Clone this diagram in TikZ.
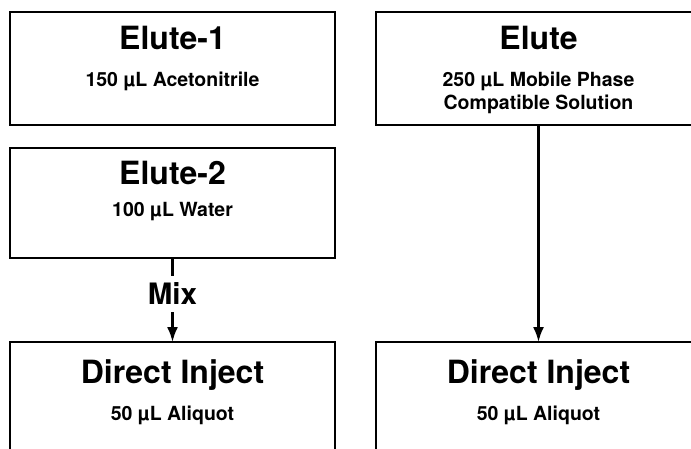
\documentclass[tikz,border=0pt]{standalone}
\usepackage{fontspec}
\setmainfont{TeX Gyre Heros}
\usetikzlibrary{arrows.meta}
\tikzset{
  box/.style={draw, line width=2.5pt, minimum width=325pt, minimum height=113pt, anchor=north west, inner sep=0pt, outer sep=0pt},
  ttl/.style={anchor=base, font=\fontsize{32}{32}\selectfont\bfseries, inner sep=0pt},
  sub/.style={anchor=base, font=\fontsize{19.5}{23}\selectfont\bfseries, inner sep=0pt},
  conn/.style={line width=2.2pt},
  arr/.style={line width=2.2pt, -{Latex[length=15pt,width=11pt]}},
  mixlbl/.style={anchor=base, font=\fontsize{29.5}{29.5}\selectfont\bfseries, inner sep=7pt, fill=white}
}
\begin{document}
\begin{tikzpicture}[x=1pt,y=-1pt]
\useasboundingbox (0,0) rectangle (691,449);
\clip (0,0) rectangle (691,449);
% left column
\node[box] (e1) at (10,12) {};
\node[ttl] (e1t) at (172.5,50) {Elute-1};
\node[sub] (e1s) at (172.5,87) {150 µL Acetonitrile};
\node[box, minimum height=110pt] (e2) at (10,148) {};
\node[ttl] (e2t) at (172.5,185) {Elute-2};
\node[sub] (e2s) at (172.5,217) {100 µL Water};
\node[box] (d1) at (10,342) {};
\node[ttl] (d1t) at (172.5,383) {Direct Inject};
\node[sub] (d1s) at (172.5,420) {50 µL Aliquot};
\node[mixlbl] (mix) at (172.5,305) {Mix};
\draw[conn] (e2.south) -- (mix.north);
\draw[arr] (mix.south) -- (d1.north);
% right column
\node[box] (el) at (376,12) {};
\node[ttl] (elt) at (538.5,50) {Elute};
\node[sub] (els1) at (538.5,87) {250 µL Mobile Phase};
\node[sub] (els2) at (538.5,110) {Compatible Solution};
\node[box] (d2) at (376,342) {};
\node[ttl] (d2t) at (538.5,383) {Direct Inject};
\node[sub] (d2s) at (538.5,420) {50 µL Aliquot};
\draw[arr] (el.south) -- (d2.north);
\end{tikzpicture}
\end{document}
